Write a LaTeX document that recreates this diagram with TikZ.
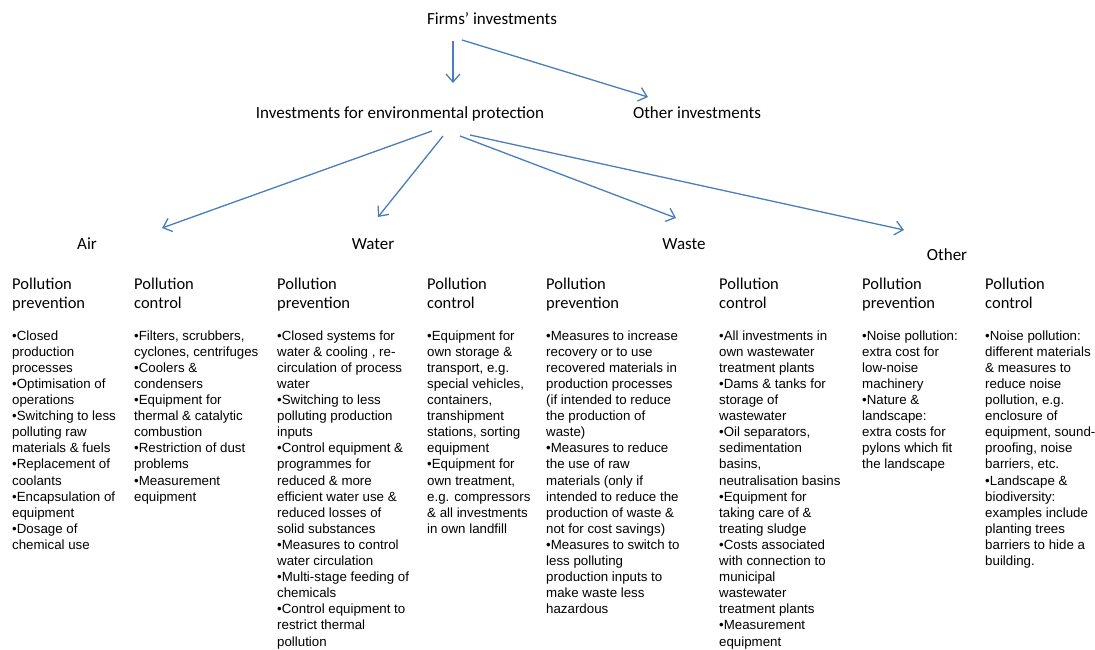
\documentclass[tikz,border=0pt]{standalone}
\usepackage{fontspec}
\setmainfont{Liberation Sans}
\newfontfamily\calib{Carlito}
\usetikzlibrary{arrows.meta}
\definecolor{arrowblue}{HTML}{4A7EBB}
\begin{document}
\begin{tikzpicture}[x=1pt,y=-1pt,
  lbl/.style={font=\calib\fontsize{17}{20}\selectfont, inner sep=0pt, anchor=base},
  head/.style={font=\calib\fontsize{16.5}{19}\selectfont, inner sep=0pt, anchor=north west, align=left},
  body/.style={font=\fontsize{13.3}{16.1}\selectfont, inner sep=0pt, anchor=north west, align=left},
  arr/.style={draw=arrowblue, line width=1.3pt, -{Straight Barb[length=8pt,width=14pt,line width=1.3pt]}}]
\useasboundingbox (0,0) rectangle (1095,650);
% top level
\node[lbl] (firms) at (492,25) {Firms’ investments};
\node[lbl] (env) at (400,119) {Investments for environmental protection};
\node[lbl] (oth) at (697,119) {Other investments};
\node[lbl] (air) at (87,249) {Air};
\node[lbl] (water) at (373,249) {Water};
\node[lbl] (waste) at (684,249) {Waste};
\node[lbl] (other) at (947,260) {Other};
% arrow ends
\coordinate (f1) at (453,41);
\coordinate (f2) at (462,40);
\coordinate (e0) at (453,83);
\coordinate (o0) at (648,97);
\coordinate (s1) at (432,131);
\coordinate (s2) at (443,136);
\coordinate (s3) at (460,136);
\coordinate (s4) at (470,135);
\coordinate (t1) at (162,228);
\coordinate (t2) at (378,217);
\coordinate (t3) at (676,218);
\coordinate (t4) at (904,230);
\draw[arr] (f1) -- (e0);
\draw[arr] (f2) -- (o0);
\draw[arr] (s1) -- (t1);
\draw[arr] (s2) -- (t2);
\draw[arr] (s3) -- (t3);
\draw[arr] (s4) -- (t4);
% headings (first baseline at 289)
\node[head] (h1) at (12,275.7) {\strut Pollution\\prevention};
\node[head] (h2) at (134,275.7) {\strut Pollution\\control};
\node[head] (h3) at (277,275.7) {\strut Pollution\\prevention};
\node[head] (h4) at (427,275.7) {\strut Pollution\\control};
\node[head] (h5) at (546,275.7) {\strut Pollution\\prevention};
\node[head] (h6) at (719,275.7) {\strut Pollution\\control};
\node[head] (h7) at (862,275.7) {\strut Pollution\\prevention};
\node[head] (h8) at (985,275.7) {\strut Pollution\\control};
% bodies (first baseline at 340)
\node[body] (b1) at (12,328.7) {\strut•Closed\\production\\processes\\•Optimisation of\\operations\\•Switching to less\\polluting raw\\materials \& fuels\\•Replacement of\\coolants\\•Encapsulation of\\equipment\\•Dosage of\\chemical use};
\node[body] (b2) at (134,328.7) {\strut•Filters, scrubbers,\\cyclones, centrifuges\\•Coolers \&\\condensers\\•Equipment for\\thermal \& catalytic\\combustion\\•Restriction of dust\\problems\\•Measurement\\equipment};
\node[body] (b3) at (277,328.7) {\strut•Closed systems for\\water \& cooling , re-\\circulation of process\\water\\•Switching to less\\polluting production\\inputs\\•Control equipment \&\\programmes for\\reduced \& more\\efficient water use \&\\reduced losses of\\solid substances\\•Measures to control\\water circulation\\•Multi-stage feeding of\\chemicals\\•Control equipment to\\restrict thermal\\pollution};
\node[body] (b4) at (427,328.7) {\strut•Equipment for\\own storage \&\\transport, e.g.\\special vehicles,\\containers,\\transhipment\\stations, sorting\\equipment\\•Equipment for\\own treatment,\\e.g. compressors\\\& all investments\\in own landfill};
\node[body] (b5) at (546,328.7) {\strut•Measures to increase\\recovery or to use\\recovered materials in\\production processes\\(if intended to reduce\\the production of\\waste)\\•Measures to reduce\\the use of raw\\materials (only if\\intended to reduce the\\production of waste \&\\not for cost savings)\\•Measures to switch to\\less polluting\\production inputs to\\make waste less\\hazardous};
\node[body] (b6) at (719,328.7) {\strut•All investments in\\own wastewater\\treatment plants\\•Dams \& tanks for\\storage of\\wastewater\\•Oil separators,\\sedimentation\\basins,\\neutralisation basins\\•Equipment for\\taking care of \&\\treating sludge\\•Costs associated\\with connection to\\municipal\\wastewater\\treatment plants\\•Measurement\\equipment};
\node[body] (b7) at (862,328.7) {\strut•Noise pollution:\\extra cost for\\low-noise\\machinery\\•Nature \&\\landscape:\\extra costs for\\pylons which fit\\the landscape};
\node[body] (b8) at (985,328.7) {\strut•Noise pollution:\\different materials\\\& measures to\\reduce noise\\pollution, e.g.\\enclosure of\\equipment, sound-\\proofing, noise\\barriers, etc.\\•Landscape \&\\biodiversity:\\examples include\\planting trees\\barriers to hide a\\building.};
\end{tikzpicture}
\end{document}
